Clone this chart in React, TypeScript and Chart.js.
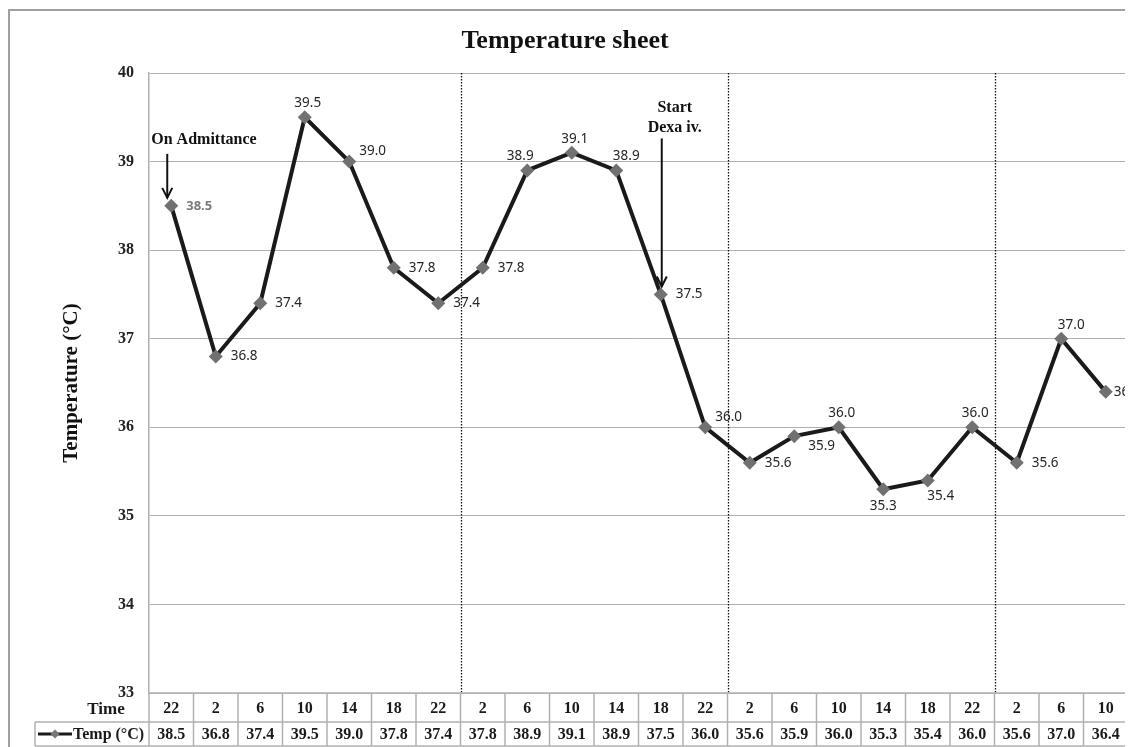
import React, { useEffect, useRef } from 'react';
import { Chart, registerables } from 'chart.js';

Chart.register(...registerables);

// ---------- data ----------
const times = ['22', '2', '6', '10', '14', '18', '22', '2', '6', '10', '14', '18', '22', '2', '6', '10', '14', '18', '22', '2', '6', '10'];
const temps = [38.5, 36.8, 37.4, 39.5, 39.0, 37.8, 37.4, 37.8, 38.9, 39.1, 38.9, 37.5, 36.0, 35.6, 35.9, 36.0, 35.3, 35.4, 36.0, 35.6, 37.0, 36.4];
const yMin = 33;
const yMax = 40;
const yStep = 1;
const dayStartIndices = [7, 13, 19];
const labelPlacement = ['R', 'R', 'R', 'A', 'RU', 'R', 'R', 'R', 'AL', 'A', 'AR', 'R', 'RU', 'R', 'RD', 'A', 'B', 'BR', 'A', 'R', 'AR', 'RN'];
const chartTitle = 'Temperature sheet';
const yAxisTitle = 'Temperature (°C)';
const rowTitle = 'Time';
const seriesName = 'Temp (°C)';
const annotationIndices = [0, 11];
const annotationTexts = [['On Admittance'], ['Start', 'Dexa iv.']];

// ---------- style ----------
const W = 1200;
const H = 760;
const SERIF = '"Liberation Serif", "Times New Roman", serif';
const SANS = '"Noto Sans", "Open Sans", sans-serif';
const GRID = '#b0b0b0';

const placements: Record<string, { dx: number; dy: number; align: CanvasTextAlign }> = {
  R: { dx: 15, dy: 0, align: 'left' },
  RN: { dx: 8, dy: 0, align: 'left' },
  RU: { dx: 10, dy: -10, align: 'left' },
  RD: { dx: 14, dy: 10, align: 'left' },
  A: { dx: 3, dy: -14, align: 'center' },
  AL: { dx: -7, dy: -14, align: 'center' },
  AR: { dx: 10, dy: -14, align: 'center' },
  B: { dx: 0, dy: 17, align: 'center' },
  BR: { dx: 13, dy: 16, align: 'center' },
};

const annotationLayout = [
  { textX: -20, textAlign: 'left' as CanvasTextAlign, lineY: [-66], arrowX: -4, arrowFrom: -52, arrowTo: -8 },
  { textX: 14, textAlign: 'center' as CanvasTextAlign, lineY: [-187, -167], arrowX: 1, arrowFrom: -156, arrowTo: -8 },
];

function line(ctx: CanvasRenderingContext2D, x1: number, y1: number, x2: number, y2: number) {
  ctx.beginPath();
  ctx.moveTo(x1, y1);
  ctx.lineTo(x2, y2);
  ctx.stroke();
}

function diamond(ctx: CanvasRenderingContext2D, x: number, y: number, r: number) {
  ctx.beginPath();
  ctx.moveTo(x, y - r);
  ctx.lineTo(x + r, y);
  ctx.lineTo(x, y + r);
  ctx.lineTo(x - r, y);
  ctx.closePath();
  ctx.fill();
}

const sheetPlugin = {
  id: 'sheet',
  beforeDatasetsDraw(chart: any) {
    const ctx: CanvasRenderingContext2D = chart.ctx;
    const area = chart.chartArea;
    const xs = chart.scales.x;
    ctx.save();
    ctx.strokeStyle = '#111';
    ctx.lineWidth = 1.3;
    ctx.setLineDash([1.5, 1.5]);
    dayStartIndices.forEach((i) => {
      const x = Math.round((xs.getPixelForValue(i - 1) + xs.getPixelForValue(i)) / 2) + 0.5;
      line(ctx, x, area.top, x, area.bottom);
    });
    ctx.restore();
  },
  afterDatasetsDraw(chart: any) {
    const ctx: CanvasRenderingContext2D = chart.ctx;
    const meta = chart.getDatasetMeta(0);
    ctx.save();
    // data labels
    ctx.textBaseline = 'middle';
    temps.forEach((v, i) => {
      const p = meta.data[i];
      const pl = placements[labelPlacement[i]];
      ctx.textAlign = pl.align;
      if (i === 0) {
        ctx.font = `bold 13px ${SANS}`;
        ctx.fillStyle = '#7a7a7a';
      } else {
        ctx.font = `13.5px ${SANS}`;
        ctx.fillStyle = '#262626';
      }
      ctx.fillText(v.toFixed(1), p.x + pl.dx, p.y + pl.dy);
    });
    // annotations
    annotationIndices.forEach((idx, k) => {
      const p = meta.data[idx];
      const lay = annotationLayout[k];
      ctx.fillStyle = '#111';
      ctx.font = `bold 16px ${SERIF}`;
      ctx.textAlign = lay.textAlign;
      ctx.textBaseline = 'middle';
      annotationTexts[k].forEach((t, j) => ctx.fillText(t, p.x + lay.textX, p.y + lay.lineY[j]));
      ctx.strokeStyle = '#111';
      ctx.lineWidth = 2;
      const ax = p.x + lay.arrowX;
      const y1 = p.y + lay.arrowFrom;
      const y2 = p.y + lay.arrowTo;
      line(ctx, ax, y1, ax, y2);
      ctx.beginPath();
      ctx.moveTo(ax - 5, y2 - 10);
      ctx.lineTo(ax, y2);
      ctx.lineTo(ax + 5, y2 - 10);
      ctx.stroke();
    });
    ctx.restore();
  },
  afterDraw(chart: any) {
    const ctx: CanvasRenderingContext2D = chart.ctx;
    const area = chart.chartArea;
    const xs = chart.scales.x;
    const n = temps.length;
    const colW = (area.right - area.left) / n;
    const rowTop = area.bottom;
    const rowMid = rowTop + 29;
    const rowBot = rowMid + 24;
    const legendLeft = 27;
    ctx.save();
    // outer frame
    ctx.strokeStyle = '#a0a0a0';
    ctx.lineWidth = 2;
    ctx.strokeRect(1, 2, W + 10, H + 10);
    // title
    ctx.fillStyle = '#111';
    ctx.font = `bold 26px ${SERIF}`;
    ctx.textAlign = 'center';
    ctx.textBaseline = 'middle';
    ctx.fillText(chartTitle, 557, 33);
    // y axis title
    ctx.save();
    ctx.translate(64, (area.top + area.bottom) / 2);
    ctx.rotate(-Math.PI / 2);
    ctx.font = `bold 21px ${SERIF}`;
    ctx.fillText(yAxisTitle, 0, 0);
    ctx.restore();
    // table grid
    ctx.strokeStyle = GRID;
    ctx.lineWidth = 1.5;
    line(ctx, area.left, rowTop, area.right, rowTop);
    line(ctx, legendLeft, rowMid, area.right, rowMid);
    line(ctx, legendLeft, rowBot, area.right, rowBot);
    for (let i = 0; i <= n; i++) {
      const x = area.left + i * colW;
      line(ctx, x, rowTop, x, rowBot);
    }
    line(ctx, legendLeft, rowMid, legendLeft, rowBot);
    // table text
    ctx.fillStyle = '#1a1a1a';
    ctx.font = `bold 16px ${SERIF}`;
    ctx.textAlign = 'center';
    ctx.textBaseline = 'middle';
    for (let i = 0; i < n; i++) {
      const cx = xs.getPixelForValue(i);
      ctx.fillText(times[i], cx, (rowTop + rowMid) / 2 + 1);
      ctx.fillText(temps[i].toFixed(1), cx, (rowMid + rowBot) / 2 + 1);
    }
    ctx.font = `bold 17px ${SERIF}`;
    ctx.fillText(rowTitle, 98, (rowTop + rowMid) / 2 + 2);
    // legend key
    const ly = (rowMid + rowBot) / 2;
    ctx.strokeStyle = '#1a1a1a';
    ctx.lineWidth = 3;
    line(ctx, legendLeft + 3, ly, legendLeft + 37, ly);
    ctx.fillStyle = '#777';
    diamond(ctx, legendLeft + 20, ly, 4.5);
    ctx.fillStyle = '#1a1a1a';
    ctx.font = `bold 16px ${SERIF}`;
    ctx.textAlign = 'left';
    ctx.fillText(seriesName, legendLeft + 38, ly + 1);
    ctx.restore();
  },
};

export default function App() {
  const ref = useRef<HTMLCanvasElement | null>(null);

  useEffect(() => {
    document.documentElement.style.overflow = 'hidden';
    document.body.style.overflow = 'hidden';
    const canvas = ref.current;
    if (!canvas) return;
    const chart = new Chart(canvas, {
      type: 'line',
      data: {
        labels: times,
        datasets: [
          {
            label: seriesName,
            data: temps,
            borderColor: '#1a1a1a',
            borderWidth: 4,
            pointStyle: 'rectRot',
            pointRadius: 7,
            pointBackgroundColor: '#717171',
            pointBorderColor: '#717171',
            pointBorderWidth: 0,
            tension: 0,
          },
        ],
      },
      options: {
        responsive: false,
        animation: false,
        devicePixelRatio: 1,
        layout: { padding: { top: 65, right: W - 1120, bottom: H - 685, left: 0 } },
        plugins: {
          legend: { display: false },
          tooltip: { enabled: false },
          title: { display: false },
        },
        scales: {
          x: {
            type: 'category',
            display: false,
            offset: true,
          },
          y: {
            min: yMin,
            max: yMax,
            afterFit: (s: any) => {
              s.width = 141;
            },
            ticks: {
              stepSize: yStep,
              padding: 15,
              color: '#222',
              font: { family: SERIF, size: 16, weight: 'bold' },
            },
            grid: { color: GRID, lineWidth: 1, drawTicks: false },
            border: { display: true, color: GRID, width: 1.5 },
          },
        },
      },
      plugins: [sheetPlugin],
    });
    return () => chart.destroy();
  }, []);

  return (
    <div style={{ width: 1125, height: 739, overflow: 'hidden' }}>
      <canvas ref={ref} width={W} height={H} style={{ display: 'block', width: W, height: H }} />
    </div>
  );
}
